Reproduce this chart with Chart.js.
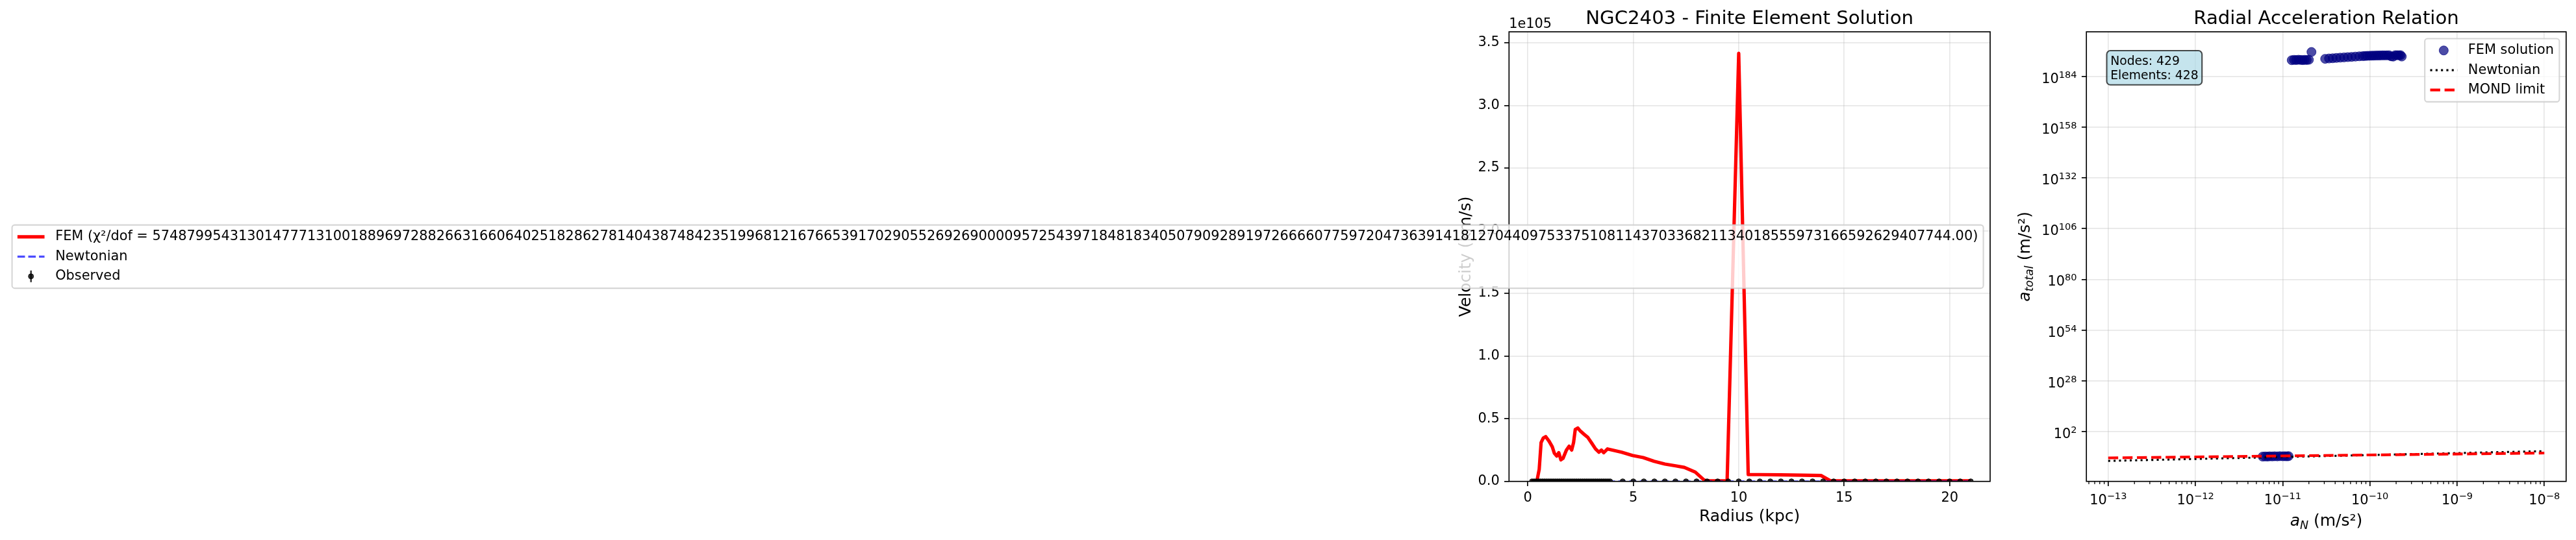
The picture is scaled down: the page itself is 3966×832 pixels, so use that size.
<!DOCTYPE html>
<html lang="en">
<head>
<meta charset="utf-8">
<title>NGC2403 - Finite Element Solution</title>
<script src="https://cdn.jsdelivr.net/npm/chart.js@4.4.1/dist/chart.umd.min.js"></script>
<style>
  html, body { margin: 0; padding: 0; background: #ffffff; }
  body { position: relative; width: 3966px; height: 832px; overflow: hidden; }
  canvas { position: absolute; top: 0; }
  #velChart { left: 0; }
  #accChart { left: 3080px; }
</style>
</head>
<body>
<canvas id="velChart" width="3080" height="832"></canvas>
<canvas id="accChart" width="886" height="832"></canvas>
<script>
"use strict";

// Rotation curve (left panel)
const femRadius = [0.15, 0.30, 0.44, 0.54, 0.63, 0.73, 0.85, 1.01, 1.16, 1.26, 1.37, 1.47, 1.57, 1.67, 1.83, 1.96,
  2.08, 2.17, 2.25, 2.37, 2.49, 2.68, 2.85, 3.03, 3.21, 3.37, 3.49, 3.60, 3.78, 4.45, 4.96, 5.47, 5.99, 6.50,
  7.01, 7.42, 7.94, 8.35, 8.45, 9.00, 9.45, 10.00, 10.45, 11.00, 12.00, 13.00, 13.90, 14.35,
  15.00, 16.00, 17.00, 18.00, 19.00, 20.00, 21.00];
const femVelocity = [0, 0, 0.010e105, 0.095e105, 0.310e105, 0.345e105, 0.357e105, 0.320e105, 0.276e105, 0.224e105,
  0.202e105, 0.229e105, 0.172e105, 0.184e105, 0.250e105, 0.281e105, 0.250e105, 0.310e105, 0.414e105, 0.426e105,
  0.402e105, 0.374e105, 0.350e105, 0.305e105, 0.259e105, 0.233e105, 0.250e105, 0.229e105, 0.259e105, 0.233e105,
  0.207e105, 0.190e105, 0.160e105, 0.138e105, 0.124e105, 0.112e105, 0.074e105, 0.012e105, 0.005e105, 0.004e105,
  0.005e105, 3.415e105, 0.055e105, 0.054e105, 0.052e105, 0.050e105, 0.047e105, 0.005e105,
  0.004e105, 0.004e105, 0.004e105, 0.004e105, 0.004e105, 0.004e105, 0.004e105];
const newtonRadius = [0.2, 0.5, 1, 1.5, 2, 3, 4, 5, 6, 7, 8, 10, 12, 14, 16, 18, 20, 21];
const newtonVelocity = [30, 52, 70, 80, 86, 92, 95, 96, 95, 93, 90, 86, 81, 77, 73, 70, 67, 65];
const obsRadius = [0.2, 0.3, 0.4, 0.5, 0.6, 0.7, 0.8, 0.9, 1.0, 1.1, 1.2, 1.3, 1.4, 1.5, 1.6, 1.7, 1.8, 1.9, 2.0,
  2.1, 2.2, 2.3, 2.4, 2.5, 2.6, 2.7, 2.8, 2.9, 3.0, 3.1, 3.2, 3.3, 3.4, 3.5, 3.6, 3.7, 3.8, 3.9,
  4.5, 5.0, 5.5, 6.0, 6.5, 7.0, 7.5, 8.0, 8.5, 9.0, 9.5, 10.0, 10.5, 11.0, 11.5, 12.0, 12.5, 13.0, 13.5,
  14.0, 14.5, 15.0, 15.5, 16.0, 16.5, 17.0, 17.5, 18.0, 18.5, 19.0, 19.5, 20.0, 20.5, 21.0];
const obsVelocity = [22, 28, 34, 39, 44, 49, 53, 57, 61, 64, 67, 70, 73, 76, 78, 80, 82, 84, 86, 88,
  90, 92, 93, 95, 96, 98, 99, 100, 101, 103, 104, 105, 106, 107, 108, 109, 110, 111,
  113, 116, 119, 121, 123, 125, 127, 128, 129, 130, 131, 132, 133, 133, 134, 134, 135, 135, 135, 135,
  136, 136, 136, 136, 135, 135, 135, 134, 134, 134, 133, 133, 133, 132];
const obsError = [8, 8, 7, 7, 7, 6, 6, 6, 6, 5, 5, 5, 5, 5, 5, 5, 5, 5, 5, 5, 5, 5, 5, 5, 5, 5, 5, 5, 5,
  5, 5, 5, 5, 5, 5, 5, 5, 5,
  4, 4, 4, 4, 4, 4, 4, 4, 4, 4, 4, 4, 4, 4, 4, 4, 4, 5, 5, 5, 5, 5, 5, 5, 5, 5, 5, 6, 6, 6, 6, 6, 6, 6];
const femChiLabel = 'FEM (χ²/dof = 57487995431301477713100188969728826631660640251828627814043874842351996812167665391702905526926900009572543971848183405079092891972666607759720473639141812704409753375108114370336821134018555973166592629407744.00)';

const velXTicks = [0, 5, 10, 15, 20];
const velXLabels = ['0', '5', '10', '15', '20'];
const velYTicks = [0, 0.5e105, 1.0e105, 1.5e105, 2.0e105, 2.5e105, 3.0e105, 3.5e105];
const velYLabels = ['0.0', '0.5', '1.0', '1.5', '2.0', '2.5', '3.0', '3.5'];
const velOffsetLabel = '1e105';

// Radial acceleration relation (right panel)
const femAccN = [5.9e-12, 6.3e-12, 6.7e-12, 7.1e-12, 7.6e-12, 8.1e-12, 8.7e-12, 9.3e-12, 1.00e-11, 1.06e-11, 1.12e-11, 1.17e-11,
  1.27e-11, 1.35e-11, 1.43e-11, 1.52e-11, 1.61e-11, 1.70e-11, 1.79e-11, 1.89e-11, 2.00e-11,
  2.14e-11,
  3.07e-11, 3.40e-11, 3.75e-11, 4.13e-11, 4.57e-11, 5.05e-11, 5.58e-11, 6.17e-11, 6.82e-11, 7.57e-11,
  8.3e-11, 8.8e-11, 9.3e-11, 9.9e-11, 1.05e-10, 1.11e-10, 1.18e-10, 1.25e-10, 1.32e-10, 1.40e-10,
  1.48e-10, 1.57e-10, 1.66e-10, 1.75e-10, 1.85e-10, 1.95e-10, 2.05e-10, 2.15e-10, 2.25e-10, 2.32e-10];
const femAccTot = [1.6e-11, 1.9e-11, 1.7e-11, 2.2e-11, 2.0e-11, 2.4e-11, 2.1e-11, 2.6e-11, 2.3e-11, 2.5e-11, 2.2e-11, 2.7e-11,
  2.0e192, 3.1e192, 2.4e192, 3.5e192, 2.7e192, 2.2e192, 3.0e192, 2.6e192, 3.3e192,
  3.2e196,
  1.0e193, 1.5e193, 2.0e193, 2.9e193, 4.0e193, 5.5e193, 7.5e193, 1.0e194, 1.4e194, 2.0e194,
  2.5e194, 3.0e194, 3.4e194, 3.8e194, 4.2e194, 4.5e194, 4.9e194, 5.2e194, 5.6e194, 6.0e194,
  5.8e194, 6.3e194, 6.7e194, 2.0e194, 1.4e194, 6.9e194, 7.2e194, 6.6e194, 7.4e194, 1.5e194];
const lineAccN = [1e-13, 1e-8];
const newtonAcc = [1e-13, 1e-8];
const mondAcc = [3.46e-12, 1.10e-9];
const infoLines = ['Nodes: 429', 'Elements: 428'];

const accXTicks = [1e-13, 1e-12, 1e-11, 1e-10, 1e-9, 1e-8];
const accXLabels = ['10^−13', '10^−12', '10^−11', '10^−10', '10^−9', '10^−8'];
const accYTicks = [1e2, 1e28, 1e54, 1e80, 1e106, 1e132, 1e158, 1e184];
const accYLabels = ['10^2', '10^28', '10^54', '10^80', '10^106', '10^132', '10^158', '10^184'];


const FONT = '"DejaVu Sans", "Liberation Sans", sans-serif';
Chart.defaults.font.family = FONT;
Chart.defaults.font.size = 20.83;
Chart.defaults.color = '#000';

let font = (size, style) => (style ? style + ' ' : '') + size + 'px ' + FONT;
let points = (xs, ys) => xs.map((v, i) => ({ x: v, y: ys[i] }));

let roundedRect = (ctx, x, y, w, h, r) => {
    ctx.beginPath();
    ctx.moveTo(x + r, y);
    ctx.arcTo(x + w, y, x + w, y + h, r);
    ctx.arcTo(x + w, y + h, x, y + h, r);
    ctx.arcTo(x, y + h, x, y, r);
    ctx.arcTo(x, y, x + w, y, r);
    ctx.closePath();
};

let drawFrame = (chart) => {
    const { ctx, chartArea: a } = chart;
    ctx.save();
    ctx.strokeStyle = '#000';
    ctx.lineWidth = 1.67;
    ctx.strokeRect(a.left, a.top, a.right - a.left, a.bottom - a.top);
    ctx.restore();
};

// text made of pieces (italic letters, subscripts), centred, baseline at y
let drawText = (ctx, parts, x, y, rotated) => {
    ctx.save();
    ctx.translate(x, y);
    if (rotated) ctx.rotate(-Math.PI / 2);
    let total = 0;
    for (const p of parts) {
        ctx.font = font(p.size, p.style);
        p.w = ctx.measureText(p.text).width;
        total += p.w;
    }
    let cx = -total / 2;
    ctx.fillStyle = '#000';
    ctx.textAlign = 'left';
    ctx.textBaseline = 'alphabetic';
    for (const p of parts) {
        ctx.font = font(p.size, p.style);
        ctx.fillText(p.text, cx, p.dy || 0);
        cx += p.w;
    }
    ctx.restore();
};

// "10^184" style tick label: base plus raised exponent
let drawPower = (ctx, label, x, y, align) => {
    const [base, exp] = label.split('^');
    ctx.font = font(20.83);
    const bw = ctx.measureText(base).width;
    ctx.font = font(14.58);
    const ew = ctx.measureText(exp).width;
    const start = align === 'right' ? x - bw - ew : x - (bw + ew) / 2;
    ctx.textAlign = 'left';
    ctx.textBaseline = 'alphabetic';
    ctx.fillStyle = '#000';
    ctx.font = font(20.83);
    ctx.fillText(base, start, y);
    ctx.font = font(14.58);
    ctx.fillText(exp, start + bw, y - 8);
};

let drawHandle = (ctx, ds, x0, x1, y) => {
    if (ds.showLine) {
        ctx.strokeStyle = ds.borderColor;
        ctx.lineWidth = ds.borderWidth;
        ctx.setLineDash(ds.borderDash || []);
        ctx.beginPath();
        ctx.moveTo(x0, y);
        ctx.lineTo(x1, y);
        ctx.stroke();
        return;
    }
    const cx = (x0 + x1) / 2;
    if (ds.errorBars) {
        ctx.strokeStyle = ds.borderColor;
        ctx.lineWidth = 2.5;
        ctx.beginPath();
        ctx.moveTo(cx, y - 9);
        ctx.lineTo(cx, y + 9);
        ctx.stroke();
    }
    ctx.beginPath();
    ctx.arc(cx, y, ds.pointRadius, 0, Math.PI * 2);
    ctx.fillStyle = ds.backgroundColor;
    ctx.fill();
    ctx.lineWidth = ds.borderWidth;
    ctx.strokeStyle = ds.borderColor;
    ctx.stroke();
};

let drawLegend = (chart, place) => {
    const { ctx, chartArea: a } = chart;
    const fs = 20.83, pad = 0.4 * fs, hl = 2 * fs, gap = 0.8 * fs, sp = 0.5 * fs, rowH = 20;
    const sets = chart.data.datasets;
    ctx.save();
    ctx.font = font(fs);
    const textW = Math.max(...sets.map(d => ctx.measureText(d.label).width));
    const w = 2 * pad + hl + gap + textW;
    const h = 2 * pad + sets.length * rowH + (sets.length - 1) * sp;
    const left = a.right - 0.5 * fs - w;
    const top = place === 'center right' ? (a.top + a.bottom) / 2 - h / 2 : a.top + 0.5 * fs;
    roundedRect(ctx, left, top, w, h, 0.2 * fs);
    ctx.fillStyle = 'rgba(255,255,255,0.8)';
    ctx.fill();
    ctx.strokeStyle = 'rgba(204,204,204,0.8)';
    ctx.lineWidth = 2.08;
    ctx.stroke();
    sets.forEach((ds, i) => {
        const cy = top + pad + rowH / 2 + i * (rowH + sp);
        const x0 = left + pad;
        ctx.save();
        drawHandle(ctx, ds, x0, x0 + hl, cy);
        ctx.restore();
        ctx.font = font(fs);
        ctx.fillStyle = '#000';
        ctx.textAlign = 'left';
        ctx.textBaseline = 'middle';
        ctx.fillText(ds.label, x0 + hl + gap, cy);
    });
    ctx.restore();
};

let axisStyle = (extra) => Object.assign({
    grid: { color: 'rgba(176,176,176,0.3)', lineWidth: 1.67, tickColor: '#000', tickLength: 7.3, tickWidth: 1.67 },
    border: { display: false }
}, extra);


// Left panel decorations
const velDecor = {
    id: 'velDecor',
    afterDatasetsDraw(chart) {
        const { ctx, chartArea: a, scales: { x, y } } = chart;
        ctx.save();
        ctx.beginPath();
        ctx.rect(a.left, a.top, a.right - a.left, a.bottom - a.top);
        ctx.clip();
        ctx.strokeStyle = 'rgba(0,0,0,0.8)';
        ctx.lineWidth = 2.5;
        obsRadius.forEach((r, i) => {
            const px = x.getPixelForValue(r);
            ctx.beginPath();
            ctx.moveTo(px, y.getPixelForValue(obsVelocity[i] - obsError[i]));
            ctx.lineTo(px, y.getPixelForValue(obsVelocity[i] + obsError[i]));
            ctx.stroke();
        });
        ctx.restore();
        drawFrame(chart);
    },
    afterDraw(chart) {
        const { ctx, chartArea: a } = chart;
        const cx = (a.left + a.right) / 2, cy = (a.top + a.bottom) / 2;
        drawText(ctx, [{ text: 'NGC2403 - Finite Element Solution', size: 29.17 }], cx, 36.5);
        ctx.save();
        ctx.font = font(20.83);
        ctx.fillStyle = '#000';
        ctx.textAlign = 'left';
        ctx.fillText(velOffsetLabel, a.left, 43);
        ctx.restore();
        drawText(ctx, [{ text: 'Radius (kpc)', size: 25 }], cx, a.bottom + 61.6);
        drawText(ctx, [{ text: 'Velocity (km/s)', size: 25 }], a.left - 59.5, cy, true);
        drawLegend(chart, 'center right');
    }
};

// Right panel decorations
const accDecor = {
    id: 'accDecor',
    afterDatasetsDraw(chart) {
        const { ctx, chartArea: a, scales: { x } } = chart;
        drawFrame(chart);
        // minor ticks of the log x axis
        ctx.save();
        ctx.strokeStyle = '#000';
        ctx.lineWidth = 1.25;
        for (let k = -14; k <= -8; k++) {
            for (let m = 2; m <= 9; m++) {
                const v = m * Math.pow(10, k);
                if (v < x.min || v > x.max) continue;
                const p = x.getPixelForValue(v);
                ctx.beginPath();
                ctx.moveTo(p, a.bottom);
                ctx.lineTo(p, a.bottom + 4.2);
                ctx.stroke();
            }
        }
        ctx.restore();
    },
    afterDraw(chart) {
        const { ctx, chartArea: a, scales: { x, y } } = chart;
        const cx = (a.left + a.right) / 2, cy = (a.top + a.bottom) / 2;

        // power-of-ten tick labels
        ctx.save();
        x.ticks.forEach((t, i) => drawPower(ctx, accXLabels[i], x.getPixelForValue(t.value), a.bottom + 35, 'center'));
        y.ticks.forEach((t, i) => drawPower(ctx, accYLabels[i], a.left - 14.6, y.getPixelForValue(t.value) + 10, 'right'));
        ctx.restore();

        drawText(ctx, [{ text: 'Radial Acceleration Relation', size: 29.17 }], cx, 36.5);
        drawText(ctx, [
            { text: 'a', size: 25, style: 'italic' },
            { text: 'N', size: 17.5, style: 'italic', dy: 4.5 },
            { text: ' (m/s²)', size: 25 }
        ], cx, a.bottom + 68.5);
        drawText(ctx, [
            { text: 'a', size: 25, style: 'italic' },
            { text: 'total', size: 17.5, style: 'italic', dy: 4.5 },
            { text: ' (m/s²)', size: 25 }
        ], a.left - 87, cy, true);

        // Nodes / Elements box
        const fs = 18.75, pad = 0.3 * fs, lineH = 1.2 * fs;
        const tx = a.left + 0.05 * (a.right - a.left);
        const ty = a.top + 0.05 * (a.bottom - a.top);
        ctx.save();
        ctx.font = font(fs);
        const w = Math.max(...infoLines.map(l => ctx.measureText(l).width));
        const h = lineH * (infoLines.length - 1) + 19;
        roundedRect(ctx, tx - pad, ty - pad, w + 2 * pad, h + 2 * pad, pad);
        ctx.fillStyle = 'rgba(173,216,230,0.7)';
        ctx.fill();
        ctx.strokeStyle = 'rgba(0,0,0,0.7)';
        ctx.lineWidth = 2.08;
        ctx.stroke();
        ctx.fillStyle = '#000';
        ctx.textAlign = 'left';
        ctx.textBaseline = 'alphabetic';
        infoLines.forEach((l, i) => ctx.fillText(l, tx, ty + 15.9 + i * lineH));
        ctx.restore();

        drawLegend(chart, 'upper right');
    }
};


const velChart = new Chart(document.getElementById('velChart'), {
    type: 'scatter',
    data: {
        datasets: [
            {
                label: femChiLabel,
                data: points(femRadius, femVelocity),
                showLine: true,
                borderColor: '#ff0000',
                borderWidth: 5.2,
                borderJoinStyle: 'round',
                pointRadius: 0,
                order: 2,
                clip: 0
            },
            {
                label: 'Newtonian',
                data: points(newtonRadius, newtonVelocity),
                showLine: true,
                borderColor: 'rgba(0,0,255,0.7)',
                borderWidth: 3.125,
                borderDash: [11.6, 5],
                pointRadius: 0,
                order: 1,
                clip: 0
            },
            {
                label: 'Observed',
                data: points(obsRadius, obsVelocity),
                errorBars: true,
                backgroundColor: 'rgba(0,0,0,0.8)',
                borderColor: 'rgba(0,0,0,0.8)',
                borderWidth: 1,
                pointRadius: 4,
                order: 0,
                clip: 0
            }
        ]
    },
    options: {
        responsive: false,
        animation: false,
        devicePixelRatio: 1,
        events: [],
        layout: { padding: { left: 2223.3, right: 16, top: 49, bottom: 30.3 } },
        plugins: { legend: { display: false }, title: { display: false }, tooltip: { enabled: false } },
        scales: {
            x: axisStyle({
                type: 'linear',
                min: -0.89,
                max: 21.92,
                afterFit: s => { s.height = 60; },
                afterBuildTicks: s => { s.ticks = velXTicks.map(v => ({ value: v })); },
                ticks: { padding: 6, maxRotation: 0, autoSkip: false, callback: (v, i) => velXLabels[i] }
            }),
            y: axisStyle({
                type: 'linear',
                min: 0,
                max: 3.587e105,
                afterFit: s => { s.width = 100; },
                afterBuildTicks: s => { s.ticks = velYTicks.map(v => ({ value: v })); },
                ticks: { padding: 7.3, autoSkip: false, callback: (v, i) => velYLabels[i] }
            })
        }
    },
    plugins: [velDecor]
});

const accChart = new Chart(document.getElementById('accChart'), {
    type: 'scatter',
    data: {
        datasets: [
            {
                label: 'FEM solution',
                data: points(femAccN, femAccTot),
                backgroundColor: 'rgba(0,0,128,0.7)',
                borderColor: 'rgba(0,0,128,0.7)',
                borderWidth: 1,
                pointRadius: 7,
                order: 2,
                clip: 0
            },
            {
                label: 'Newtonian',
                data: points(lineAccN, newtonAcc),
                showLine: true,
                borderColor: '#000000',
                borderWidth: 3.125,
                borderDash: [3.1, 5.2],
                pointRadius: 0,
                order: 1,
                clip: 0
            },
            {
                label: 'MOND limit',
                data: points(lineAccN, mondAcc),
                showLine: true,
                borderColor: '#ff0000',
                borderWidth: 4.17,
                borderDash: [15.4, 6.7],
                pointRadius: 0,
                order: 0,
                clip: 0
            }
        ]
    },
    options: {
        responsive: false,
        animation: false,
        devicePixelRatio: 1,
        events: [],
        layout: { padding: { left: 32.2, right: 15.2, top: 49, bottom: 30.3 } },
        plugins: { legend: { display: false }, title: { display: false }, tooltip: { enabled: false } },
        scales: {
            x: axisStyle({
                type: 'logarithmic',
                min: Math.pow(10, -13.25),
                max: Math.pow(10, -7.75),
                afterFit: s => { s.height = 60; },
                afterBuildTicks: s => { s.ticks = accXTicks.map(v => ({ value: v })); },
                ticks: { display: false, maxRotation: 0, autoSkip: false }
            }),
            y: axisStyle({
                type: 'logarithmic',
                min: Math.pow(10, -23.5),
                max: Math.pow(10, 206.85),
                afterFit: s => { s.width = 100; },
                afterBuildTicks: s => { s.ticks = accYTicks.map(v => ({ value: v })); },
                ticks: { display: false, autoSkip: false }
            })
        }
    },
    plugins: [accDecor]
});
</script>
</body>
</html>
